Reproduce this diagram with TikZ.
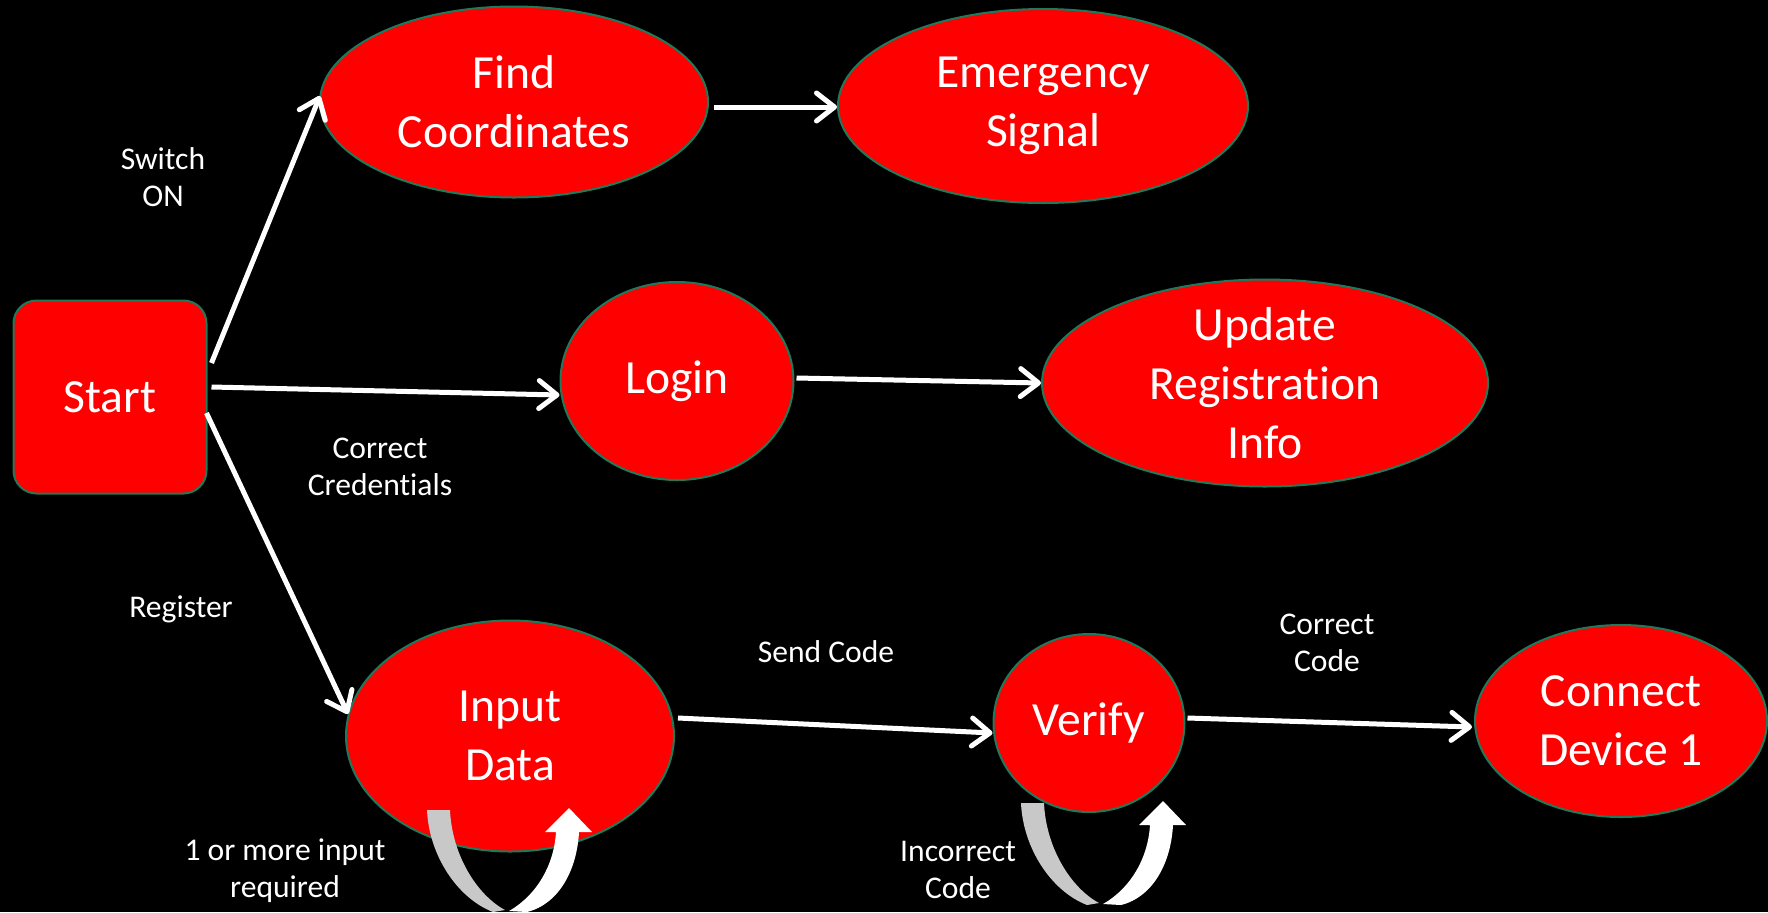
\documentclass[tikz,border=0pt]{standalone}
\usepackage{fontspec}
\setmainfont{Carlito}[Ligatures=NoCommon]
\usetikzlibrary{shapes.geometric,arrows.meta}
\definecolor{rim}{RGB}{31,122,92}
\definecolor{loopgray}{RGB}{200,200,200}
\tikzstyle{line} = [draw, white, line width=2.5pt, -{Straight Barb[length=9pt,width=14pt,round]}]
\tikzstyle{oval} = [draw=rim, fill=red, ellipse, line width=1pt, inner sep=0pt, text=white, align=center, font=\fontsize{23.8}{29.5}\selectfont]
\tikzstyle{block} = [draw=rim, fill=red, rectangle, rounded corners=11.5pt, line width=1pt, minimum width=96.5pt, minimum height=96.5pt, text=white, font=\fontsize{23.8}{29.5}\selectfont]
\tikzstyle{note} = [text=white, align=center, font=\fontsize{15.8}{18.5}\selectfont]

% u-turn arrow under a state: gray tail going down, white head coming back up
\newcommand{\uturn}[1]{%
  \begin{scope}[shift={#1}]
    \fill[loopgray] (0,0) -- (23,0) .. controls (25,45) and (50,85) .. (78,100)
      -- (66,102) .. controls (30,88) and (2,45) .. (0,0) -- cycle;
    \fill[white] (82,101) .. controls (110,85) and (127,55) .. (129,22)
      -- (118,22) -- (142,-2) -- (165,22) -- (152,22)
      .. controls (150,60) and (132,94) .. (100,102) -- cycle;
  \end{scope}}

\begin{document}
\begin{tikzpicture}[x=0.5pt, y=-0.5pt]
        \fill[black] (0,0) rectangle (1768,912);
        \useasboundingbox (0,0) rectangle (1768,912);
        \clip (0,0) rectangle (1768,912);

        \node[block] (start) at (110,397) {Start};
        \node[oval, minimum width=194pt, minimum height=95.5pt] (find) at (514,102) {Find\\Coordinates};
        \node[oval, minimum width=205pt, minimum height=97pt] (emergency) at (1043,106) {Emergency\\Signal};
        \node[oval, minimum width=116.5pt, minimum height=99pt] (login) at (677,381) {Login};
        \node[oval, minimum width=223pt, minimum height=103.5pt, inner ysep=-6pt] (update) at (1265,383) {Update\\Registration\\Info};
        \node[oval, minimum width=164pt, minimum height=115.5pt] (input) at (510,736) {Input\\Data};
        \node[oval, minimum width=95.5pt, minimum height=89pt] (verify) at (1089,723) {Verify};
        \node[oval, minimum width=146pt, minimum height=96pt] (connect) at (1621,721) {Connect\\Device 1};

        \node[note] (switch) at (163,177) {Switch\\ON};
        \node[note] (creds) at (380,467) {Correct\\Credentials};
        \node[note] (register) at (181,609) {Register};
        \node[note] (send) at (826,652) {Send Code};
        \node[note] (good) at (1327,643) {Correct\\Code};
        \node[note] (retry) at (285,871) {1 or more input\\required};
        \node[note] (bad) at (958,870) {Incorrect\\Code};

        \path[line] ([shift={(4,-34)}]start.east) -- ([shift={(1,-6)}]find.west);
        \path[line] ([shift={(4,-10)}]start.east) -- ([shift={(0,14)}]login.west);
        \path[line] ([shift={(-1,16)}]start.east) -- ([shift={(3,-22)}]input.west);
        \path[line] ([shift={(5,5)}]find.east) -- ([shift={(0,1)}]emergency.west);
        \path[line] ([shift={(2,-3)}]login.east) -- (update.west);
        \path[line] ([shift={(3,-18)}]input.east) -- ([shift={(0,10)}]verify.west);
        \path[line] ([shift={(2,-5)}]verify.east) -- ([shift={(-2,6)}]connect.west);

        \uturn{(427,810)}
        \uturn{(1021,803)}
\end{tikzpicture}
\end{document}
